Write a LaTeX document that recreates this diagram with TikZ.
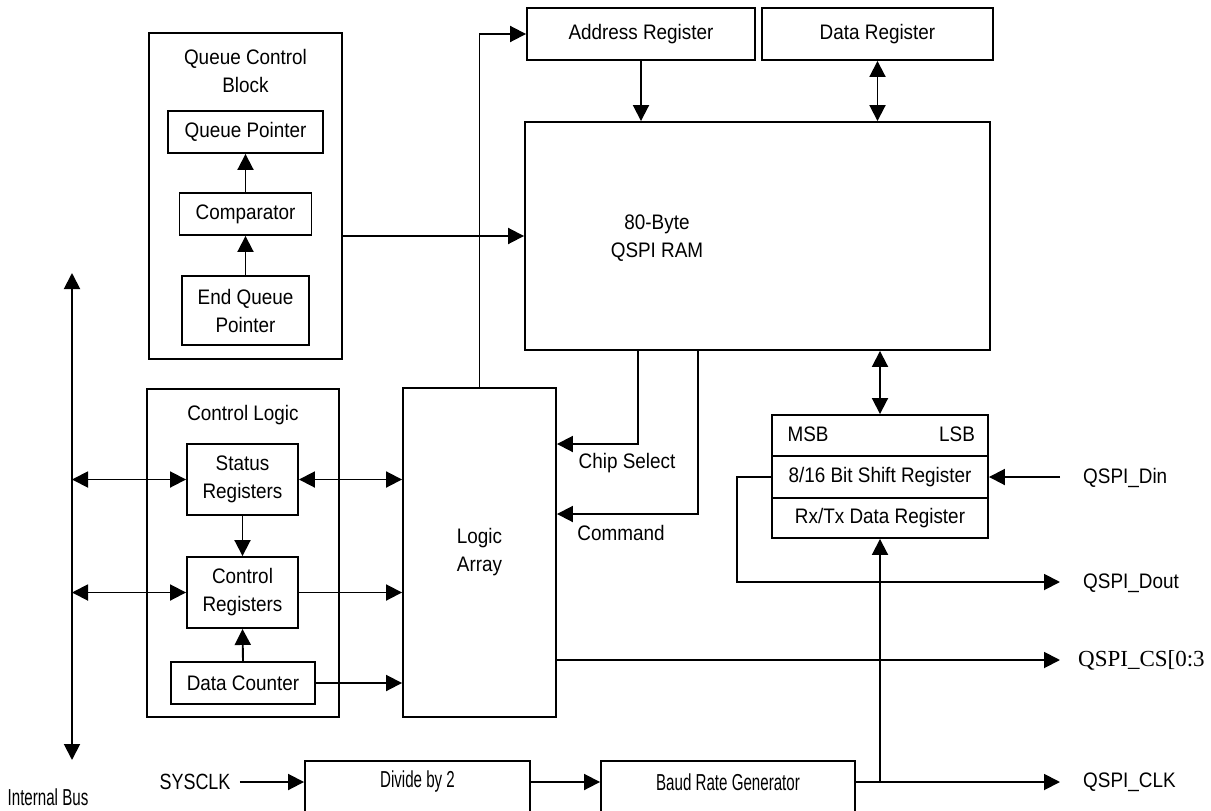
\documentclass[tikz,border=0pt]{standalone}
\usepackage{fontspec}
\usepackage{graphicx}
\setmainfont[FakeStretch=0.9]{Liberation Sans}
\newfontfamily\csserif{Liberation Serif}
\usetikzlibrary{arrows.meta}
\newcommand{\narrowtxt}[1]{\scalebox{0.8}[1.1]{#1}}
\begin{document}
\begin{tikzpicture}[x=1pt,y=-1pt,
  every node/.style={font=\fontsize{21}{28}\selectfont, align=center},
  box/.style={draw, line width=1.9pt, inner sep=0pt},
  conn/.style={line width=1.9pt},
  arr/.style={conn, -{Triangle[length=16pt,width=16pt]}},
  darr/.style={conn, {Triangle[length=16pt,width=16pt]}-{Triangle[length=16pt,width=16pt]}},
  sig/.style={anchor=west, inner sep=0pt}]
\useasboundingbox (0,0) rectangle (1211,811);

% Queue control block
\node[box, minimum width=193pt, minimum height=326pt] (qcb) at (245.5,196) {};
\node (qcbt) at (245.5,71) {Queue Control\\Block};
\node[box, minimum width=155pt, minimum height=42pt] (qptr) at (245.5,132) {Queue Pointer};
\node[box, minimum width=132pt, minimum height=42pt] (comp) at (245.5,214) {Comparator};
\node[box, minimum width=127pt, minimum height=69pt] (endq) at (245.5,310.5) {End Queue\\Pointer};
\draw[arr] (comp.north) -- (qptr.south);
\draw[arr] (endq.north) -- (comp.south);

% Control logic
\node[box, minimum width=192pt, minimum height=328pt] (ctl) at (243,553) {};
\node (ctlt) at (243,415) {Control Logic};
\node[box, minimum width=111pt, minimum height=71pt] (status) at (242.5,479.5) {Status\\Registers};
\node[box, minimum width=111pt, minimum height=71pt] (ctrlreg) at (242.5,592.5) {Control\\Registers};
\node[box, minimum width=144pt, minimum height=42pt] (dcount) at (243,683) {Data Counter};

% Logic array
\node[box, minimum width=153pt, minimum height=329pt] (logic) at (479.5,552.5) {Logic\\Array};

% Registers and RAM
\node[box, minimum width=228pt, minimum height=52pt] (addr) at (641,34) {Address Register};
\node[box, minimum width=231pt, minimum height=52pt] (data) at (877.5,34) {Data Register};
\node[box, minimum width=465pt, minimum height=228pt] (ram) at (757.5,236) {};
\node (ramt) at (657,238) {80-Byte\\QSPI RAM};

% Shift register
\node[box, minimum width=216pt, minimum height=41pt] (msb) at (880,435.5) {};
\node[anchor=center] (msbt) at (808,434) {MSB};
\node[anchor=center] (lsbt) at (957,434) {LSB};
\node[box, minimum width=216pt, minimum height=42pt] (shift) at (880,477) {8/16 Bit Shift Register};
\node[box, minimum width=216pt, minimum height=40pt] (rxtx) at (880,518) {Rx/Tx Data Register};

% Bottom clock chain
\node[box, minimum width=225pt, minimum height=69pt] (div) at (417.5,795.5) {};
\node (divt) at (417.5,782) {\narrowtxt{Divide by 2}};
\node[box, minimum width=254pt, minimum height=69pt] (baud) at (728,795.5) {};
\node (baudt) at (728,782) {\narrowtxt{Baud Rate Generator}};
\node (sysclk) at (195,782) {\scalebox{0.95}[1.05]{SYSCLK}};
\node (ibus) at (48,797) {\narrowtxt{Internal Bus}};

% Internal bus
\coordinate (bustop) at (72,273);
\coordinate (busbot) at (72,760);
\draw[darr] (busbot) -- (bustop);
\draw[darr] (bustop |- status.west) -- (status.west);
\draw[darr] (bustop |- ctrlreg.west) -- (ctrlreg.west);
\draw[darr] (status.east) -- (logic.west |- status.east);
\draw[arr] (status.south) -- (ctrlreg.north);
\draw[arr] (ctrlreg.east) -- (logic.west |- ctrlreg.east);
\draw[arr] (dcount.north) -- (ctrlreg.south);
\draw[arr] (dcount.east) -- (logic.west |- dcount.east);

% Queue to RAM, logic to address
\draw[arr] (qcb.east |- ram.west) -- (ram.west);
\draw[arr] (logic.north) -- (logic.north |- addr.west) -- (addr.west);
\draw[arr] (addr.south) -- (addr.south |- ram.north);
\draw[darr] (data.south) -- (data.south |- ram.north);

% Chip select and command
\coordinate (cs1) at (638,350);
\coordinate (cs2) at (638,444);
\coordinate (cm1) at (698,350);
\coordinate (cm2) at (698,514);
\draw[arr] (cs1) -- (cs2) -- (logic.east |- cs2);
\draw[arr] (cm1) -- (cm2) -- (logic.east |- cm2);
\node (cst) at (627,463) {Chip Select};
\node (cmt) at (621,533) {Command};

% RAM to shift register
\draw[darr] (msb.north |- ram.south) -- (msb.north);

% Serial signals
\coordinate (din) at (1060,477);
\coordinate (dk) at (737,582);
\coordinate (dout) at (1060,582);
\coordinate (csout) at (1060,660);
\coordinate (clkout) at (1060,782);
\coordinate (clkj) at (880,782);
\draw[arr] (din) -- (shift.east);
\draw[arr] (shift.west) -| (dk) -- (dout);
\draw[arr] (logic.east |- csout) -- (csout);
\draw[arr] ([xshift=6pt]sysclk.east) -- (div.west |- sysclk);
\draw[arr] (div.east |- clkout) -- (baud.west |- clkout);
\draw[arr] (baud.east |- clkout) -- (clkout);
\draw[arr] (clkj) -- (rxtx.south);

\node[sig] (dinl) at (1083,478) {QSPI\_Din};
\node[sig] (doutl) at (1083,583) {QSPI\_Dout};
\node[sig, font=\csserif\fontsize{23}{28}\selectfont] (csl) at (1078,660) {QSPI\_CS[0:3};
\node[sig] (clkl) at (1083,782) {QSPI\_CLK};
\end{tikzpicture}
\end{document}
